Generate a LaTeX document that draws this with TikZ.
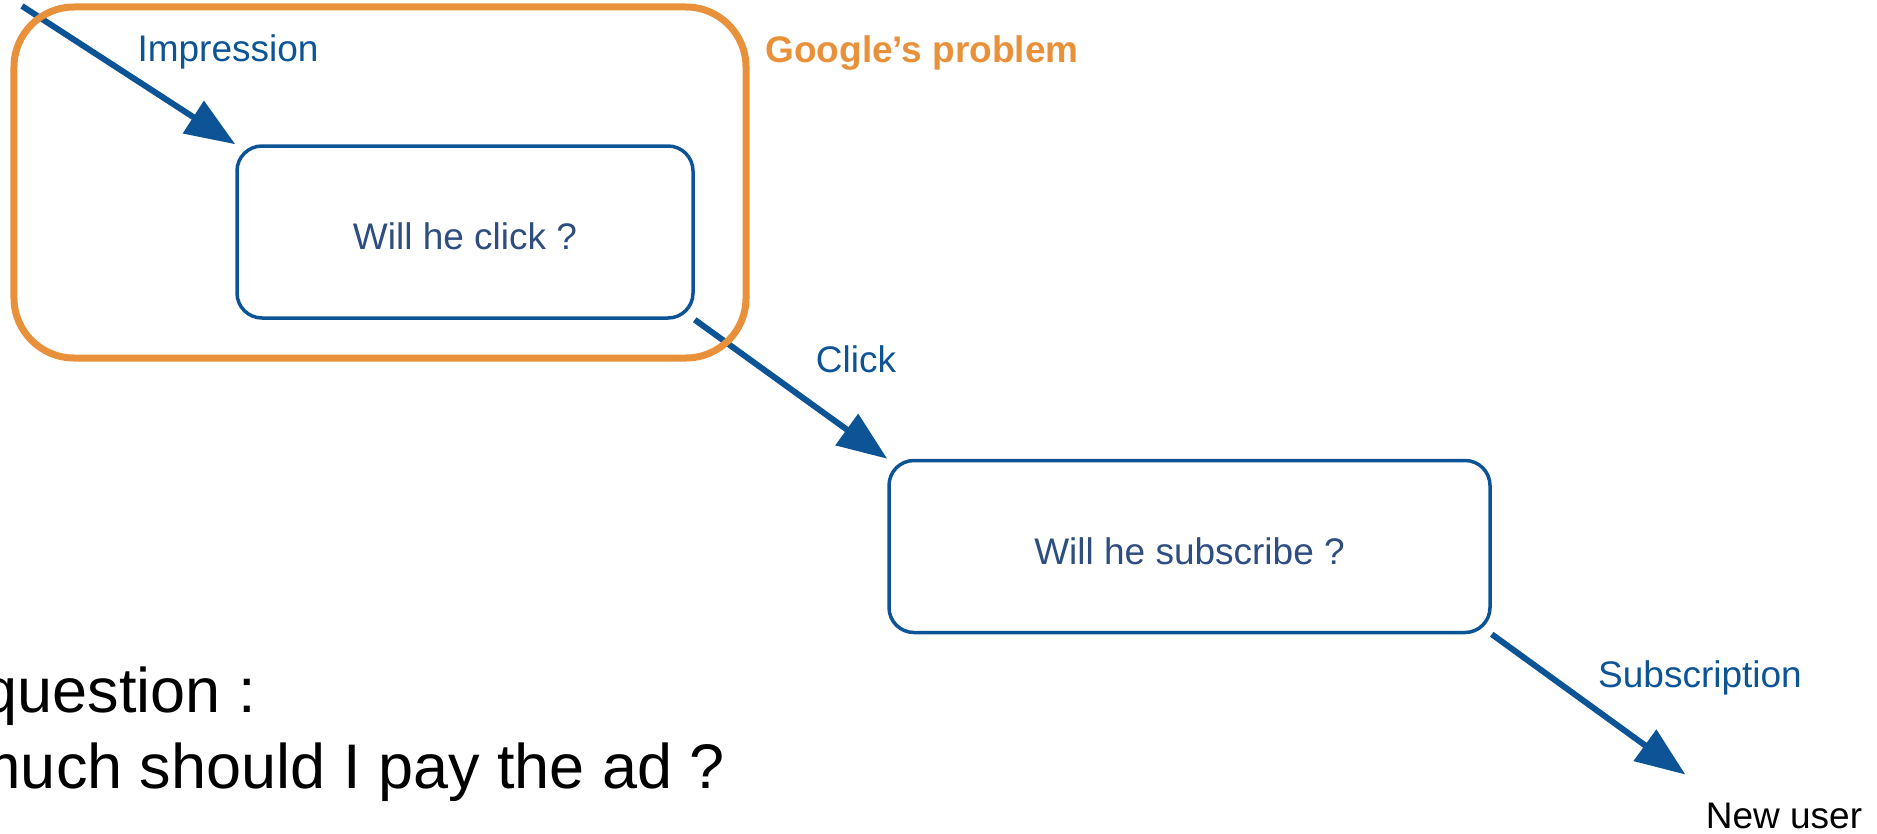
\documentclass[tikz,border=0pt]{standalone}
\usepackage{fontspec}
\setmainfont{Liberation Sans}
\usetikzlibrary{arrows.meta,positioning}
\definecolor{adblue}{RGB}{13,84,150}
\definecolor{qtext}{RGB}{46,77,128}
\definecolor{gorange}{RGB}{232,145,58}
\newcommand{\lblfont}{\fontsize{14.8}{17.8}\selectfont}
\newcommand{\askfont}{\fontsize{25.2}{30}\selectfont}

\begin{document}
\begin{tikzpicture}[
  x=0.4pt, y=0.4pt,
  qbox/.style={draw=adblue, line width=1.4pt, rounded corners=10pt,
               minimum height=68.8pt, inner sep=0pt,
               text height=14pt, text depth=0pt,
               font=\lblfont, text=qtext},
  gbox/.style={draw=gorange, line width=2.8pt, rounded corners=24pt,
               minimum width=292.8pt, minimum height=140.4pt},
  lbl/.style={font=\lblfont, text=adblue, inner sep=0pt, anchor=base},
  ask/.style={font=\askfont, inner sep=0pt, anchor=base west},
  flow/.style={-{Triangle[length=20pt, width=15pt]}, adblue,
               line width=2.4pt}]

\useasboundingbox (0,0) rectangle (1877,-833);

\node[qbox, minimum width=182.4pt] (click) at (465,-232)    {Will he click ?};
\node[qbox, minimum width=240.4pt] (subs)  at (1189.5,-546.5) {Will he subscribe ?};

\node[lbl] (limp) at (228,-61)  {Impression};
\node[lbl] (lclk) at (856,-372) {Click};
\node[lbl] (lsub) at (1700,-687) {Subscription};

\node[font=\lblfont, anchor=base, inner xsep=8pt, inner ysep=11pt]
     (user) at (1784,-828) {New user};

\node[ask] (q1) at (-18,-712) {question :};
\node[ask] (q2) at (-32,-788) {much should I pay the ad ?};

\coordinate (imp) at (22,-6);

\draw[flow] (imp) -- (click.north west);
\draw[flow] (click.south east) -- (subs.north west);
\draw[flow] (subs.south east) -- (user.north west);

% Google's part of the funnel
\node[gbox] (goog) at (380,-182.5) {};
\node[font=\lblfont\bfseries, text=gorange, inner sep=0pt, anchor=base west]
     (lgoog) at (765,-62) {Google’s problem};
\end{tikzpicture}
\end{document}
